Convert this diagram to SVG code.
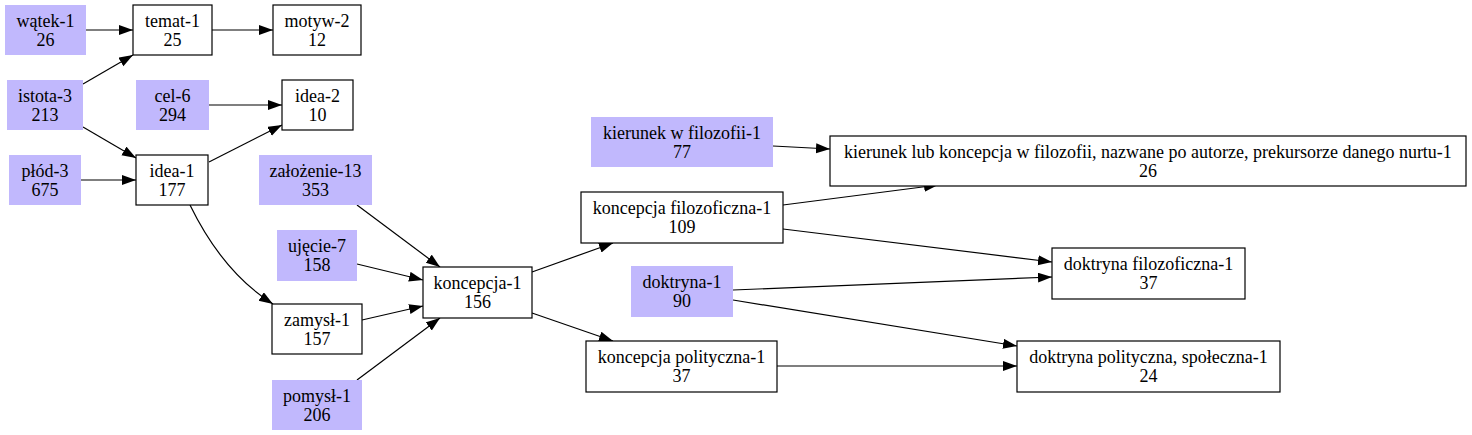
<svg xmlns="http://www.w3.org/2000/svg" width="1472" height="435" viewBox="0 0 1472 435">
<style>
.f{fill:#c1b8fd;stroke:none}
.w{fill:#ffffff;stroke:#000;stroke-width:1.2}
.t text{font-family:'Liberation Serif','Times New Roman',serif;font-size:18px;text-anchor:middle;fill:#000}
.e{stroke:#000;stroke-width:1.2;fill:none;marker-end:url(#ah)}
</style>
<defs>
<marker id="ah" markerUnits="userSpaceOnUse" markerWidth="15" markerHeight="11" refX="14" refY="5" orient="auto">
<path d="M0,0 L14,5 L0,10 z" fill="#000"/>
</marker>
</defs>
<rect width="1472" height="435" fill="#fff"/>
<g id="edges">
<path class="e" d="M86,30 L133,30"/>
<path class="e" d="M212,30 L273,30"/>
<path class="e" d="M83,84 L133,55"/>
<path class="e" d="M83,127 L136,158"/>
<path class="e" d="M81,180 L136,180"/>
<path class="e" d="M209,105 L282,105"/>
<path class="e" d="M209,162 L282,125"/>
<path class="e" d="M190,205 C208,242 235,280 273,304"/>
<path class="e" d="M357,205 L440,267"/>
<path class="e" d="M357,264 L423,280"/>
<path class="e" d="M362,320 L423,306"/>
<path class="e" d="M357,380 L440,318"/>
<path class="e" d="M532,272 L613,243"/>
<path class="e" d="M532,313 L613,341"/>
<path class="e" d="M773,146 L830,149"/>
<path class="e" d="M783,205 L938,185"/>
<path class="e" d="M783,229 L1052,262"/>
<path class="e" d="M733,290 L1052,277"/>
<path class="e" d="M733,300 L1017,346"/>
<path class="e" d="M777,366 L1017,366"/>
</g>
<g class="t">
<g id="watek-1"><rect class="f" x="5" y="5" width="81" height="50"/><text x="45.5" y="27">wątek-1</text><text x="45.5" y="46">26</text></g>
<g id="temat-1"><rect class="w" x="133" y="5" width="79" height="50"/><text x="172.5" y="27">temat-1</text><text x="172.5" y="46">25</text></g>
<g id="motyw-2"><rect class="w" x="273" y="5" width="88" height="50"/><text x="317" y="27">motyw-2</text><text x="317" y="46">12</text></g>
<g id="istota-3"><rect class="f" x="7" y="80" width="76" height="50"/><text x="45" y="102">istota-3</text><text x="45" y="121">213</text></g>
<g id="cel-6"><rect class="f" x="136" y="80" width="73" height="50"/><text x="172.5" y="102">cel-6</text><text x="172.5" y="121">294</text></g>
<g id="idea-2"><rect class="w" x="282" y="80" width="71" height="50"/><text x="317.5" y="102">idea-2</text><text x="317.5" y="121">10</text></g>
<g id="plod-3"><rect class="f" x="9" y="155" width="72" height="50"/><text x="45" y="177">płód-3</text><text x="45" y="196">675</text></g>
<g id="idea-1"><rect class="w" x="136" y="155" width="72" height="50"/><text x="172" y="177">idea-1</text><text x="172" y="196">177</text></g>
<g id="zalozenie-13"><rect class="f" x="259" y="155" width="113" height="50"/><text x="315.5" y="177">założenie-13</text><text x="315.5" y="196">353</text></g>
<g id="ujecie-7"><rect class="f" x="277" y="230" width="80" height="51"/><text x="317" y="252">ujęcie-7</text><text x="317" y="271">158</text></g>
<g id="zamysl-1"><rect class="w" x="272" y="304" width="90" height="50"/><text x="317" y="326">zamysł-1</text><text x="317" y="345">157</text></g>
<g id="pomysl-1"><rect class="f" x="272" y="380" width="90" height="50"/><text x="317" y="402">pomysł-1</text><text x="317" y="421">206</text></g>
<g id="koncepcja-1"><rect class="w" x="423" y="267" width="109" height="51"/><text x="477.5" y="289">koncepcja-1</text><text x="477.5" y="308">156</text></g>
<g id="kierunek-w-filozofii-1"><rect class="f" x="591" y="117" width="182" height="50"/><text x="682" y="139">kierunek w filozofii-1</text><text x="682" y="158">77</text></g>
<g id="kierunek-lub-koncepcja-1"><rect class="w" x="830" y="136" width="636" height="50"/><text x="1148" y="158">kierunek lub koncepcja w filozofii, nazwane po autorze, prekursorze danego nurtu-1</text><text x="1148" y="177">26</text></g>
<g id="koncepcja-filozoficzna-1"><rect class="w" x="581" y="192" width="202" height="51"/><text x="682" y="214">koncepcja filozoficzna-1</text><text x="682" y="233">109</text></g>
<g id="doktryna-1"><rect class="f" x="631" y="266" width="102" height="51"/><text x="682" y="288">doktryna-1</text><text x="682" y="307">90</text></g>
<g id="koncepcja-polityczna-1"><rect class="w" x="586" y="341" width="191" height="51"/><text x="681.5" y="363">koncepcja polityczna-1</text><text x="681.5" y="382">37</text></g>
<g id="doktryna-filozoficzna-1"><rect class="w" x="1052" y="248" width="193" height="51"/><text x="1148.5" y="270">doktryna filozoficzna-1</text><text x="1148.5" y="289">37</text></g>
<g id="doktryna-polityczna-spoleczna-1"><rect class="w" x="1017" y="341" width="263" height="51"/><text x="1148.5" y="363">doktryna polityczna, społeczna-1</text><text x="1148.5" y="382">24</text></g>
</g>
</svg>
